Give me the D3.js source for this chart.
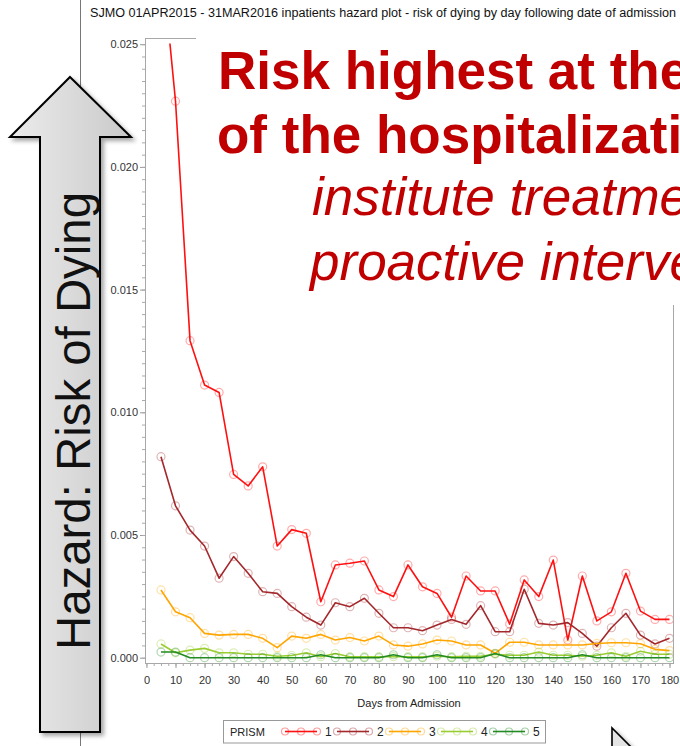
<!DOCTYPE html>
<html><head><meta charset="utf-8">
<script src="https://cdn.jsdelivr.net/npm/d3@7"></script>
<style>
body{margin:0;background:#fff}
svg{display:block}
text{font-family:"Liberation Sans",Arial,Helvetica,sans-serif}
</style>
</head><body>
<svg id="c" width="680" height="746"></svg>
<script>
// ---------- data ----------
const days = [5,10,15,20,25,30,35,40,45,50,55,60,65,70,75,80,85,90,95,100,105,110,115,120,125,130,135,140,145,150,155,160,165,170,175,180];
const prism1 = [0.0288,0.02268,0.01292,0.01111,0.01081,0.00747,0.00700,0.00778,0.00455,0.00522,0.00507,0.00228,0.00378,0.00385,0.00394,0.00276,0.00249,0.00378,0.00289,0.00262,0.00165,0.00333,0.00272,0.00272,0.00137,0.00317,0.00249,0.00398,0.00072,0.00333,0.00150,0.00187,0.00344,0.00190,0.00156,0.00156];
const prism2 = [0.00819,0.00619,0.00520,0.00455,0.00324,0.00412,0.00344,0.00269,0.00262,0.00208,0.00165,0.00133,0.00224,0.00208,0.00242,0.00181,0.00122,0.00122,0.00110,0.00133,0.00156,0.00136,0.00212,0.00106,0.00106,0.00279,0.00140,0.00133,0.00143,0.00099,0.00047,0.00122,0.00181,0.00092,0.00056,0.00079];
const prism3 = [0.00276,0.00187,0.00163,0.00099,0.00092,0.00095,0.00095,0.00079,0.00041,0.00088,0.00079,0.00095,0.00072,0.00082,0.00068,0.00088,0.00052,0.00047,0.00056,0.00072,0.00068,0.00052,0.00052,0.00018,0.00063,0.00063,0.00052,0.00052,0.00052,0.00052,0.00058,0.00061,0.00061,0.00057,0.00034,0.00029];
const prism4 = [0.00056,0.00020,0.00031,0.00038,0.00020,0.00020,0.00014,0.00014,0.00006,0.00009,0.00020,0.00004,0.00017,0.00004,0.00004,0.00004,0.00004,0.00004,0.00004,0.00006,0.00004,0.00006,0.00006,0.00014,0.00010,0.00010,0.00023,0.00010,0.00010,0.00006,0.00010,0.00020,0.00006,0.00026,0.00014,0.00014];
const prism5 = [0.00023,0.00023,0,0,0,0,0,0,0,0,0,0.00012,0,0,0,0,0.00012,0,0,0.00012,0,0,0,0.00017,0,0,0,0,0,0.00012,0,0,0,0,0,0];
const seriesNames = ["1","2","3","4","5"];
const seriesValues = [prism1,prism2,prism3,prism4,prism5];
const seriesColors = ["#ff1010","#a3282c","#ffa500","#9acd32","#228b22"];
const yTickValues = [0,0.005,0.010,0.015,0.020,0.025];
const xTickValues = [0,10,20,30,40,50,60,70,80,90,100,110,120,130,140,150,160,170,180];
const titleText = "SJMO 01APR2015 - 31MAR2016 inpatients hazard plot - risk of dying by day following date of admission";
const xLabel = "Days from Admission";
const yLabel = "Hazard: Risk of Dying";
const legendTitle = "PRISM";
const noteBold = ["Risk highest at the", "of the hospitalization"];
const noteItalic = ["institute treatment", "proactive intervention"];

// ---------- layout ----------
const svg = d3.select("#c");
const P = {l:145, t:38, r:673, b:663};
const x = d3.scaleLinear().domain([0,180]).range([146.45,669.5]);
const y = d3.scaleLinear().domain([0,0.025]).range([657.7,44.2]);

const defs = svg.append("defs");
defs.append("clipPath").attr("id","clip").append("rect")
  .attr("x",P.l).attr("y",y(0.025)-0.6).attr("width",P.r-P.l).attr("height",P.b-y(0.025)+0.6);
const grad = defs.append("linearGradient").attr("id","ag").attr("x1","0").attr("x2","1").attr("y1","0").attr("y2","0");
grad.append("stop").attr("offset","0").attr("stop-color","#ececec");
grad.append("stop").attr("offset","1").attr("stop-color","#c9c9c9");
const sh = defs.append("filter").attr("id","sh").attr("x","-20%").attr("y","-5%").attr("width","150%").attr("height","115%");
sh.append("feDropShadow").attr("dx",3).attr("dy",3).attr("stdDeviation",2).attr("flood-color","#000").attr("flood-opacity",0.35);

svg.append("rect").attr("width",680).attr("height",746).attr("fill","#fff");

// outer frame line
svg.append("line").attr("x1",80.5).attr("x2",80.5).attr("y1",0).attr("y2",746).attr("stroke","#777").attr("stroke-width",1);

// title
svg.append("text").attr("x",90).attr("y",17).attr("font-size",12).attr("fill","#111")
  .attr("textLength",586).attr("lengthAdjust","spacingAndGlyphs").text(titleText);

// plot frame
svg.append("rect").attr("x",P.l+0.5).attr("y",P.t+0.5).attr("width",P.r-P.l).attr("height",P.b-P.t)
  .attr("fill","none").attr("stroke","#a8a8a8").attr("stroke-width",1);

// y axis
const yAx = svg.append("g").attr("transform",`translate(${P.l},0)`)
  .call(d3.axisLeft(y).tickValues(yTickValues).tickFormat(d3.format(".3f")).tickSize(5).tickPadding(2));
yAx.select(".domain").remove();
yAx.selectAll(".tick line").attr("stroke","#999");
yAx.selectAll("text").attr("font-size",11).attr("fill","#333").style("font-family",'"Liberation Sans",Arial,sans-serif');
const yMinor = svg.append("g").attr("transform",`translate(${P.l},0)`)
  .call(d3.axisLeft(y).tickValues(d3.range(0,51).map(i=>i*0.0005)).tickFormat("").tickSize(3));
yMinor.select(".domain").remove();
yMinor.selectAll(".tick line").attr("stroke","#aaa");

// x axis
const xAx = svg.append("g").attr("transform",`translate(0,${P.b})`)
  .call(d3.axisBottom(x).tickValues(xTickValues).tickFormat(d3.format("d")).tickSize(5).tickPadding(8));
xAx.select(".domain").remove();
xAx.selectAll(".tick line").attr("stroke","#999");
xAx.selectAll("text").attr("font-size",11).attr("fill","#333").style("font-family",'"Liberation Sans",Arial,sans-serif');
const xMinor = svg.append("g").attr("transform",`translate(0,${P.b})`)
  .call(d3.axisBottom(x).tickValues(d3.range(0,73).map(i=>i*2.5)).tickFormat("").tickSize(3));
xMinor.select(".domain").remove();
xMinor.selectAll(".tick line").attr("stroke","#aaa");

svg.append("text").attr("x",(P.l+P.r)/2).attr("y",707).attr("text-anchor","middle")
  .attr("font-size",11).attr("fill","#222").text(xLabel);

// series
const gS = svg.append("g").attr("clip-path","url(#clip)");
const line = d3.line().x((d,i)=>x(days[i])).y(d=>y(d));
seriesValues.forEach((vals,k)=>{
  gS.append("path").datum(vals).attr("d",line).attr("fill","none")
    .attr("stroke",seriesColors[k]).attr("stroke-width",1.6).attr("stroke-linejoin","round");
  gS.selectAll(null).data(vals).enter().append("circle")
    .attr("cx",(d,i)=>x(days[i])).attr("cy",d=>y(d)).attr("r",4)
    .attr("fill","none").attr("stroke",seriesColors[k]).attr("stroke-opacity",0.35).attr("stroke-width",1.2);
});

// annotation box
svg.append("rect").attr("x",196).attr("y",26).attr("width",490).attr("height",279).attr("fill","#fff");
const noteColor = "#c00000";
svg.append("text").attr("x",218).attr("y",89).attr("font-size",53).attr("font-weight","bold").attr("fill",noteColor).text(noteBold[0]);
svg.append("text").attr("x",217).attr("y",153).attr("font-size",53).attr("font-weight","bold").attr("fill",noteColor).text(noteBold[1]);
svg.append("text").attr("x",312).attr("y",215).attr("font-size",53).attr("font-style","italic").attr("fill",noteColor).text(noteItalic[0]);
svg.append("text").attr("x",310).attr("y",280).attr("font-size",53).attr("font-style","italic").attr("fill",noteColor).text(noteItalic[1]);

// big arrow
const ap = d3.path();
ap.moveTo(70,77); ap.lineTo(131,137); ap.lineTo(100,137); ap.lineTo(100,732);
ap.lineTo(40,732); ap.lineTo(40,137); ap.lineTo(10,137); ap.closePath();
svg.append("path").attr("d",ap.toString()).attr("fill","url(#ag)").attr("stroke","#000")
  .attr("stroke-width",2).attr("stroke-linejoin","miter").attr("filter","url(#sh)");
svg.append("text").attr("transform","translate(90,421) rotate(-90)").attr("text-anchor","middle")
  .attr("font-size",48).attr("fill","#111").attr("textLength",458).attr("lengthAdjust","spacingAndGlyphs").text(yLabel);

// legend
const lg = svg.append("g");
lg.append("rect").attr("x",223.5).attr("y",720.5).attr("width",322).attr("height",22.5)
  .attr("fill","#fff").attr("stroke","#999");
lg.append("text").attr("x",230).attr("y",735.5).attr("font-size",11).attr("fill","#222").text(legendTitle);
seriesNames.forEach((nm,k)=>{
  const xs = 285 + k*52, yy = 731.5;
  lg.append("line").attr("x1",xs).attr("x2",xs+32).attr("y1",yy).attr("y2",yy)
    .attr("stroke",seriesColors[k]).attr("stroke-width",1.6);
  [0,16,32].forEach(o=>lg.append("circle").attr("cx",xs+o).attr("cy",yy).attr("r",3.5)
    .attr("fill","none").attr("stroke",seriesColors[k]).attr("stroke-opacity",0.4).attr("stroke-width",1.2));
  lg.append("text").attr("x",xs+40).attr("y",736).attr("font-size",12).attr("fill","#222").text(nm);
});

// mouse cursor (bottom right)
const cp = d3.path();
cp.moveTo(612,728); cp.lineTo(612,770); cp.lineTo(622,760); cp.lineTo(630,778);
cp.lineTo(636,775); cp.lineTo(628,758); cp.lineTo(642,758); cp.closePath();
svg.append("path").attr("d",cp.toString()).attr("fill","#e4e4e4").attr("stroke","#000").attr("stroke-width",1.6)
  .attr("filter","url(#sh)");
</script>
</body></html>
